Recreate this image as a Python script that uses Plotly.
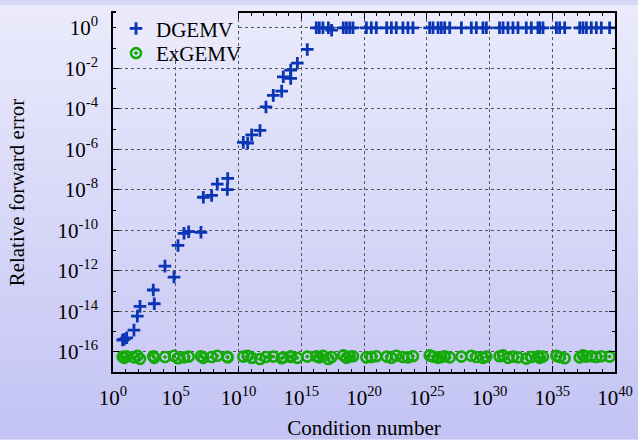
import base64
import plotly.graph_objects as go

# log10 of condition number (shared by both methods)
log_cond = [0.77, 0.90, 1.09, 1.67, 1.94, 2.15, 3.21, 3.29, 4.14, 4.86, 5.18, 5.66, 6.03, 7.01,
            7.20, 7.86, 8.31, 9.11, 9.14, 10.38, 10.73, 11.05, 11.71, 12.19, 12.77, 13.44, 13.57,
            14.16, 14.16, 14.69, 15.48,
            16.20, 16.44, 16.73, 17.16, 17.42, 18.35, 18.60, 18.86, 19.12, 20.19, 20.58, 20.98,
            21.81, 22.18, 22.57, 23.10, 23.50, 23.90, 25.23, 25.50, 25.90, 26.16, 26.43, 26.83,
            27.76, 28.55, 28.95, 29.48, 29.75, 30.80, 31.08, 31.47, 31.87, 32.27, 32.93, 33.33,
            33.86, 34.00, 34.26, 35.33, 35.59, 35.99, 37.19, 37.45, 37.72, 38.11, 38.51, 38.91, 39.57]

# log10 of relative forward error, DGEMV
log_err_dgemv = [-15.42, -15.38, -15.31, -14.93, -14.24, -13.76, -12.95, -13.63, -11.77, -12.31,
                 -10.75, -10.15, -10.07, -10.10, -8.37, -8.28, -7.72, -7.99, -7.44, -5.66, -5.69,
                 -5.29, -5.07, -3.91, -3.34, -3.13, -2.42, -2.50, -2.09, -1.75, -1.07,
                 0.0, 0.0, 0.0, 0.0, -0.12, 0.0, 0.0, 0.0, 0.0, 0.0, 0.0, 0.0,
                 0.0, 0.0, 0.0, 0.0, 0.0, 0.0, 0.0, 0.0, 0.0, 0.0, 0.0, 0.0,
                 0.0, 0.0, 0.0, 0.0, 0.0, 0.0, 0.0, 0.0, 0.0, 0.0, 0.0, 0.0,
                 0.0, 0.0, 0.0, 0.0, 0.0, 0.0, 0.0, 0.0, 0.0, 0.0, 0.0, 0.0, 0.0]

# log10 of relative forward error, ExGEMV
log_err_exgemv = [-16.25, -16.30, -16.22, -16.28, -16.20, -16.35, -16.22, -16.30, -16.26, -16.20,
                  -16.32, -16.28, -16.24, -16.22, -16.30, -16.26, -16.20, -16.25, -16.28, -16.24,
                  -16.20, -16.30, -16.36, -16.26, -16.24, -16.32, -16.28, -16.22, -16.26, -16.30,
                  -16.24, -16.22, -16.28, -16.20, -16.36, -16.26, -16.18, -16.30, -16.24, -16.22,
                  -16.28, -16.26, -16.22, -16.24, -16.30, -16.20, -16.26, -16.28, -16.22, -16.18,
                  -16.24, -16.30, -16.26, -16.22, -16.28, -16.24, -16.20, -16.26, -16.30, -16.24,
                  -16.22, -16.18, -16.30, -16.24, -16.28, -16.34, -16.26, -16.22, -16.30, -16.24,
                  -16.20, -16.26, -16.32, -16.28, -16.18, -16.24, -16.22, -16.26, -16.22, -16.24]

cond = [10.0 ** v for v in log_cond]
err_d = [10.0 ** v for v in log_err_dgemv]
err_e = [10.0 ** v for v in log_err_exgemv]

x_major = list(range(0, 41, 5))
x_ticktext = [f"10<sup>{e}</sup>" for e in x_major]
y_major = list(range(-16, 1, 2))
y_ticktext = [f"10<sup>{e}</sup>" for e in y_major]
x_minor = [10.0 ** e for e in range(0, 41) if e % 5]
y_minor = [10.0 ** e for e in range(-17, 1) if e % 2]

FONT = "Liberation Serif"
BLUE = "#0a35b4"
GREEN = "#14aa0a"

fig = go.Figure()
fig.add_trace(go.Scatter(
    x=cond, y=err_d, mode="markers", name="DGEMV", legend="legend",
    marker=dict(symbol="cross-thin", size=9, line=dict(color=BLUE, width=2.8), color=BLUE),
))
fig.add_trace(go.Scatter(
    x=cond, y=err_e, mode="markers", name="ExGEMV", legend="legend2",
    marker=dict(symbol="circle-open-dot", size=10, color=GREEN, line=dict(color=GREEN, width=2.6)),
))

svg = ('<svg xmlns="http://www.w3.org/2000/svg" width="100" height="100" viewBox="0 0 100 100" '
       'preserveAspectRatio="none"><defs><linearGradient id="g" x1="0" y1="0" x2="0" y2="1">'
       '<stop offset="0" stop-color="#ebebfc"/><stop offset="1" stop-color="#c3c3f4"/>'
       '</linearGradient></defs><rect width="100" height="100" fill="url(#g)"/></svg>')
src = "data:image/svg+xml;base64," + base64.b64encode(svg.encode()).decode()

W, H = 638, 440
L, R, T, B = 113, 23, 8, 68
pw, ph = W - L - R, H - T - B

fig.add_layout_image(dict(
    source=src, xref="paper", yref="paper", x=-L / pw, y=1 + T / ph,
    sizex=W / pw, sizey=H / ph, xanchor="left", yanchor="top",
    sizing="stretch", layer="below",
))

axis_common = dict(
    type="log", showline=True, linecolor="black", linewidth=1.5, mirror="ticks",
    ticks="inside", ticklen=6, tickwidth=1, tickcolor="black",
    showgrid=True, gridcolor="#555555", griddash="dot", gridwidth=1,
    zeroline=False, tickfont=dict(family=FONT, size=21, color="black"),
    automargin=False,
)

fig.update_xaxes(
    **axis_common, range=[0, 40],
    tickmode="array", tickvals=[10.0 ** e for e in x_major], ticktext=x_ticktext,
    minor=dict(tickmode="array", tickvals=x_minor, ticks="inside", ticklen=3,
               tickcolor="black", showgrid=False),
    title=dict(text="Condition number", font=dict(family=FONT, size=21, color="black"), standoff=14),
    ticklabelstandoff=6,
)
fig.update_yaxes(
    **axis_common, range=[-17, 0.73],
    tickmode="array", tickvals=[10.0 ** e for e in y_major], ticktext=y_ticktext,
    minor=dict(tickmode="array", tickvals=y_minor, ticks="inside", ticklen=3,
               tickcolor="black", showgrid=False),
    title=dict(text="Relative forward error", font=dict(family=FONT, size=21, color="black"), standoff=27),
    ticklabelstandoff=9,
)

leg_common = dict(xanchor="left", yanchor="middle", borderwidth=0,
                  font=dict(family=FONT, size=21, color="black"), itemwidth=30)

fig.update_layout(
    width=W, height=H,
    margin=dict(l=L, r=R, t=T, b=B, pad=0),
    paper_bgcolor="#d8d8f8", plot_bgcolor="rgba(0,0,0,0)",
    font=dict(family=FONT, size=21, color="black"),
    legend=dict(x=0.006, y=1 - (24 - T) / ph, bgcolor="#e9e9fb", **leg_common),
    legend2=dict(x=0.006, y=1 - (49 - T) / ph, bgcolor="rgba(0,0,0,0)", **leg_common),
    showlegend=True,
)

fig.write_html(
    "out.html",
    config={"displayModeBar": False},
    post_script="document.body.style.margin='0';document.body.style.overflow='hidden';",
)
